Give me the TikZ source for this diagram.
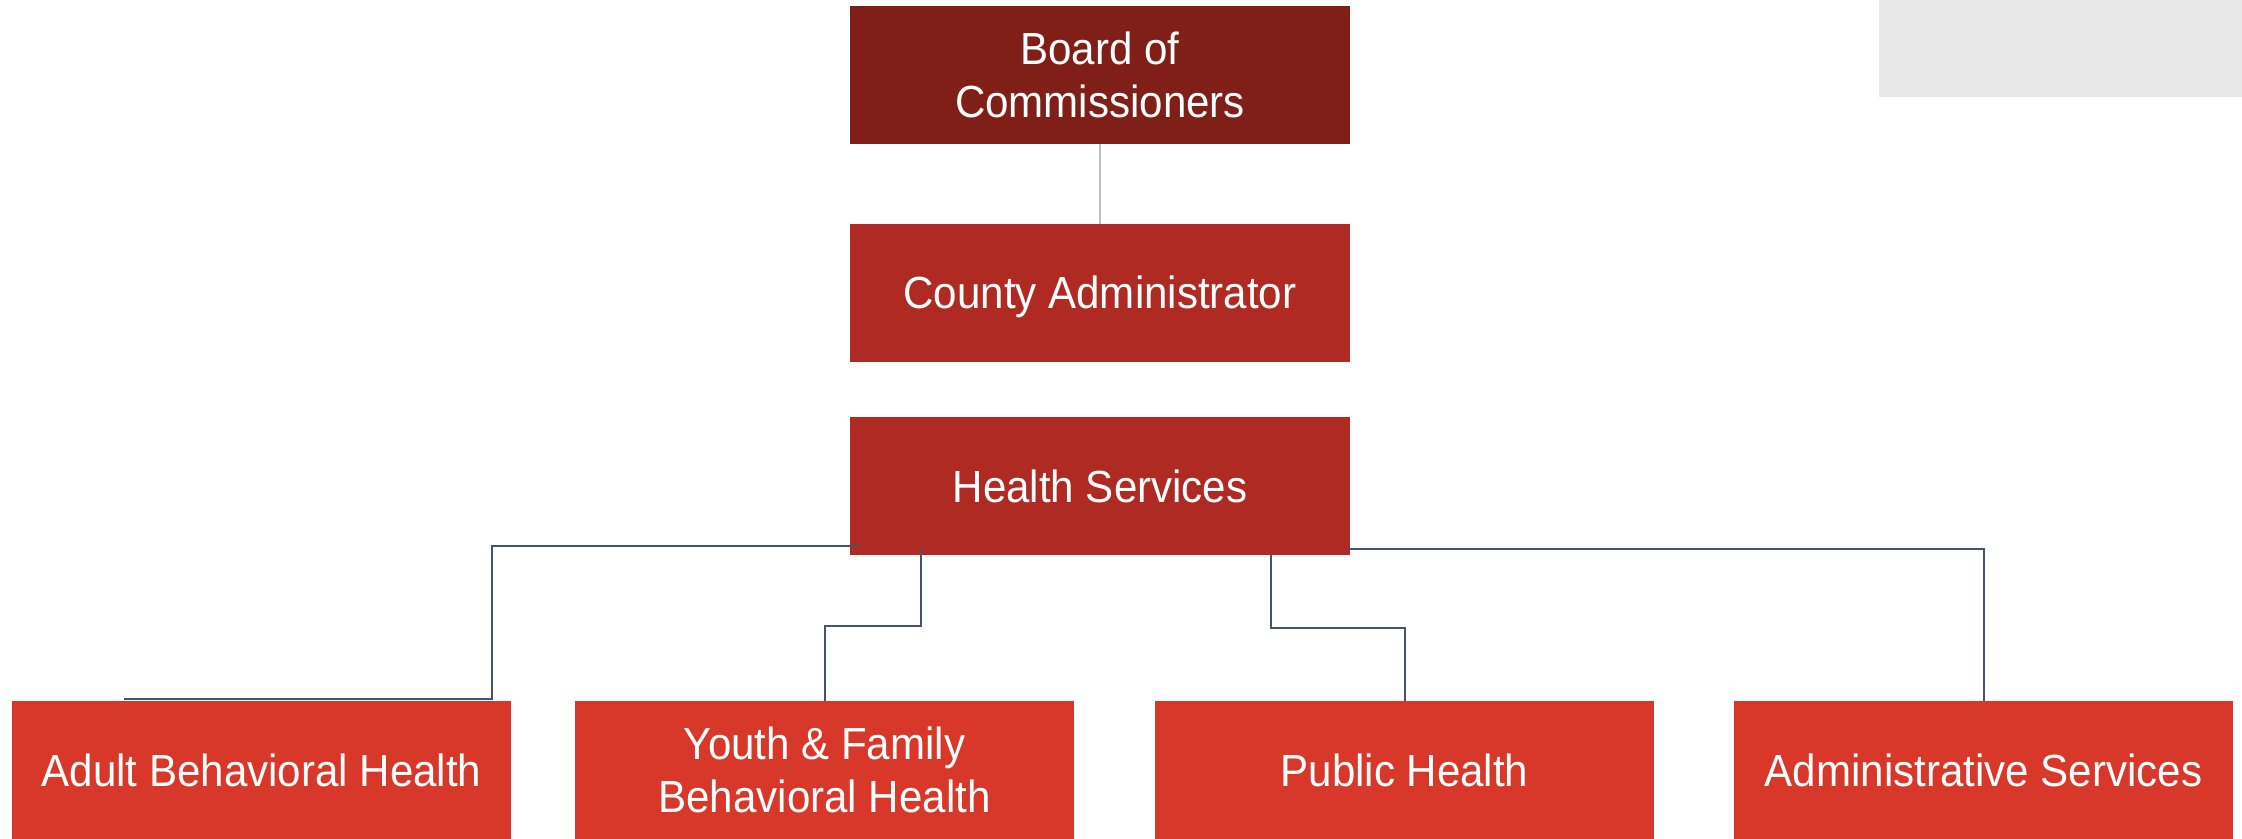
\documentclass[tikz,border=0pt]{standalone}
\usepackage{fontspec}
\setmainfont{Liberation Sans}[FakeStretch=0.935]
\usetikzlibrary{calc}
\definecolor{boardred}{RGB}{128,31,24}
\definecolor{midred}{RGB}{175,42,34}
\definecolor{lowred}{RGB}{215,56,41}
\definecolor{connc}{RGB}{68,84,106}
\definecolor{thin}{RGB}{191,191,191}
\definecolor{panelgray}{RGB}{232,232,232}
\tikzset{
  orgbox/.style={rectangle, inner sep=0pt, minimum width=250pt, minimum height=69pt,
    text=white, align=center, font=\fontsize{22.5pt}{26.5pt}\selectfont,
    text height=16pt, text depth=0pt},
  twoline/.style={text height=42.5pt, text depth=0pt},
  lowbox/.style={orgbox, fill=lowred, minimum width=249.5pt},
  conn/.style={draw=connc, line width=1pt},
  thinline/.style={draw=thin, line width=0.6pt},
}
\begin{document}
\begin{tikzpicture}[x=0.5pt, y=-0.5pt]
\useasboundingbox (0,0) rectangle (2242,839);
\fill[panelgray] (1879,0) rectangle (2242,97);
\node[orgbox, twoline, fill=boardred] (board) at (1100,75) {Board of\\Commissioners};
\node[orgbox, fill=midred] (county) at (1100,293) {County Administrator};
\node[orgbox, fill=midred] (hs) at (1100,486) {Health Services};
\node[lowbox] (adult) at (261.5,770) {Adult Behavioral Health};
\node[lowbox, twoline] (youth) at (824.5,770) {Youth \& Family\\Behavioral Health};
\node[lowbox] (public) at (1404.5,770) {Public Health};
\node[lowbox] (admin) at (1983.5,770) {Administrative Services};
\draw[thinline] (board.south) -- (county.north);
\draw[conn] ($(hs.south west)+(9,-9)$) -| ($(adult.north east)+(-19,-2)$) -- ($(adult.north west)+(112,-2)$);
\draw[conn] ($(hs.south west)+(71,-7)$) -- ++(0,78) -| (youth.north);
\draw[conn] ($(hs.south west)+(421,0)$) -- ++(0,73) -| (public.north);
\draw[conn] ($(hs.south east)+(-2,-6)$) -| (admin.north);
\end{tikzpicture}
\end{document}
